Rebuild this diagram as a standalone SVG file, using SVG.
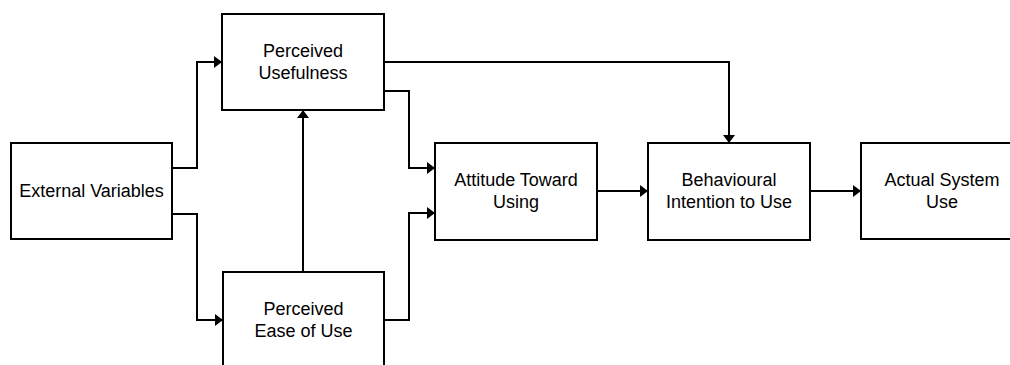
<svg xmlns="http://www.w3.org/2000/svg" width="1010" height="365" viewBox="0 0 1010 365">
<style>
.box{fill:#fff;stroke:#000;stroke-width:2}
.lbl{font-family:"Liberation Sans",Arial,sans-serif;font-size:18px;fill:#000;text-anchor:middle}
.c{fill:none;stroke:#000;stroke-width:2;marker-end:url(#ah)}
</style>
<defs>
<marker id="ah" viewBox="0 0 8 12" refX="8" refY="6" markerWidth="4" markerHeight="6" markerUnits="strokeWidth" orient="auto">
<path d="M0,0 L8,6 L0,12 Z" fill="#000"/>
</marker>
</defs>
<rect width="1010" height="365" fill="#fff"/>
<g id="connectors">
<path class="c" d="M172,168 H197 V62 H222"/>
<path class="c" d="M172,214 H197 V320 H223"/>
<path class="c" d="M303,272 V110"/>
<path class="c" d="M384,91 H409 V168 H435"/>
<path class="c" d="M384,320 H409 V213 H435"/>
<path class="c" d="M384,62 H729 V143"/>
<path class="c" d="M597,191 H648"/>
<path class="c" d="M810,191 H861"/>
</g>
<g id="external">
<rect class="box" x="11" y="143" width="161" height="96"/>
<text class="lbl" x="91.5" y="197">External Variables</text>
</g>
<g id="pu">
<rect class="box" x="222" y="14" width="162" height="96"/>
<text class="lbl" x="303" y="57">Perceived</text>
<text class="lbl" x="303" y="79">Usefulness</text>
</g>
<g id="peou">
<rect class="box" x="223" y="272" width="161" height="100"/>
<text class="lbl" x="303.5" y="315">Perceived</text>
<text class="lbl" x="303.5" y="337">Ease of Use</text>
</g>
<g id="attitude">
<rect class="box" x="435" y="143" width="162" height="97"/>
<text class="lbl" x="516" y="186">Attitude Toward</text>
<text class="lbl" x="516" y="208">Using</text>
</g>
<g id="bi">
<rect class="box" x="648" y="143" width="162" height="97"/>
<text class="lbl" x="729" y="186">Behavioural</text>
<text class="lbl" x="729" y="208">Intention to Use</text>
</g>
<g id="actual">
<rect class="box" x="861" y="143" width="162" height="96"/>
<text class="lbl" x="942" y="186">Actual System</text>
<text class="lbl" x="942" y="208">Use</text>
</g>
</svg>
